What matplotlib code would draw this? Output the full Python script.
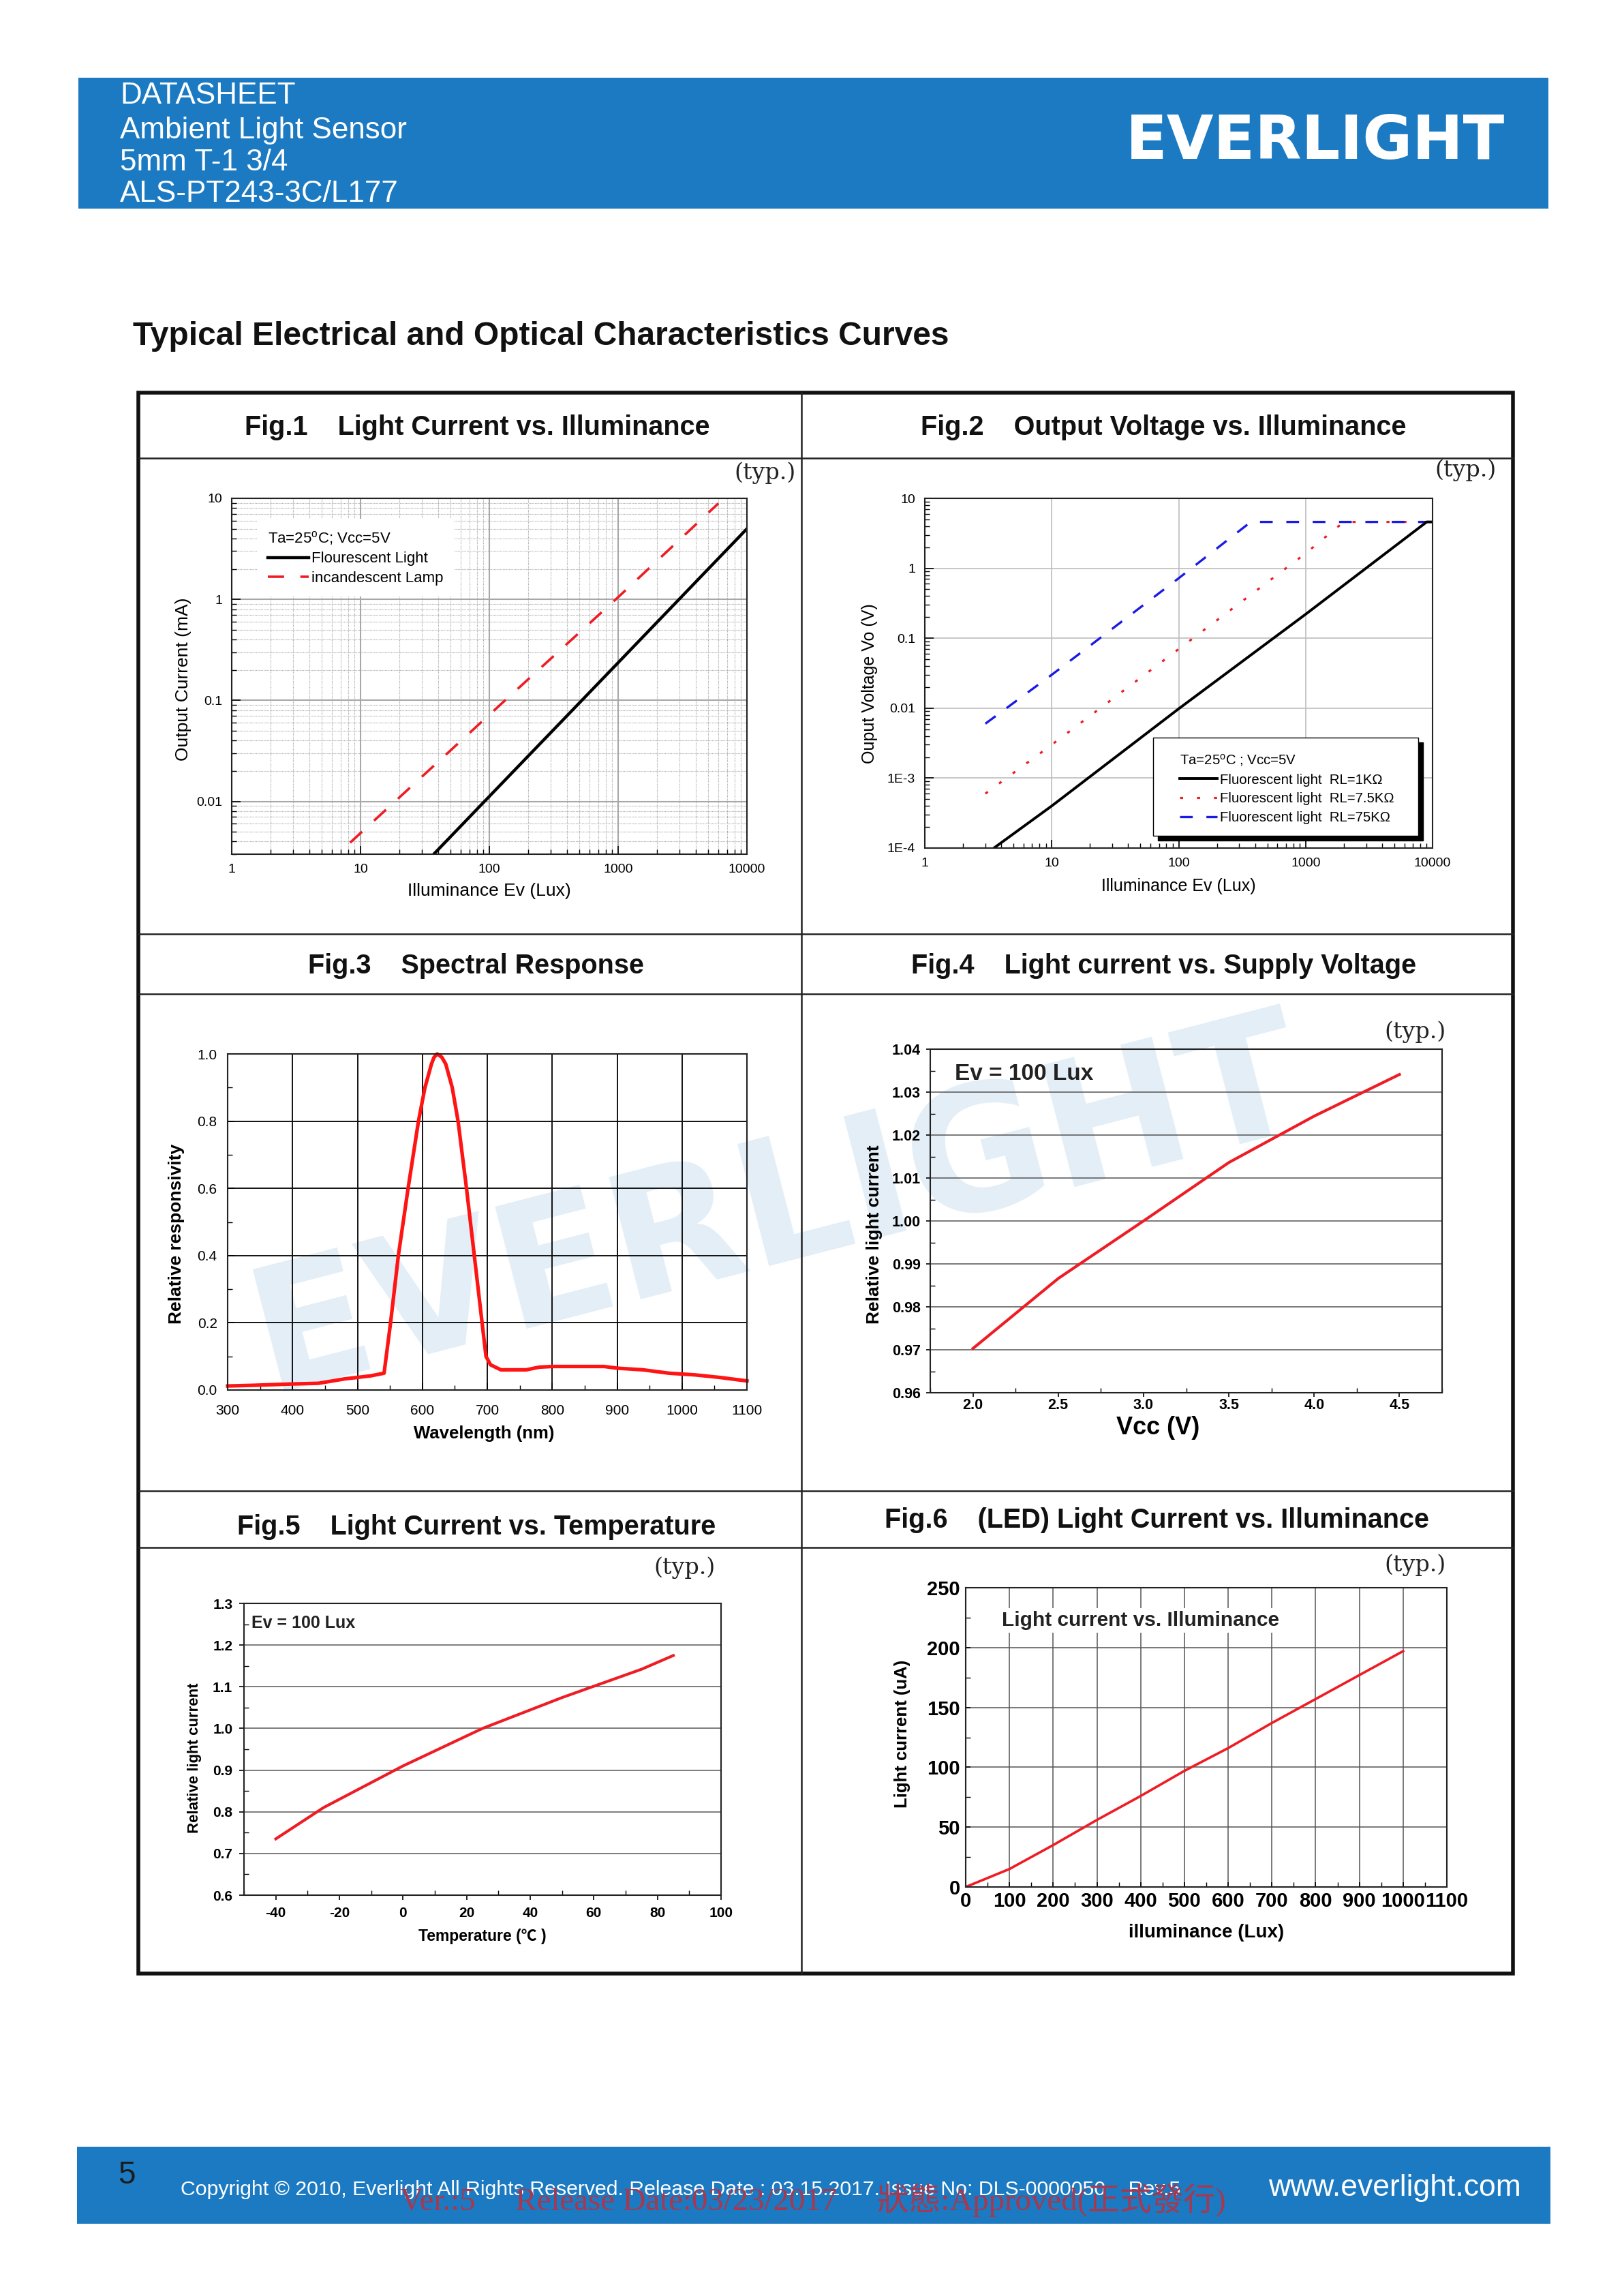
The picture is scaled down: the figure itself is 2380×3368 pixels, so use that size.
import matplotlib

matplotlib.use("Agg")
import matplotlib.pyplot as plt
from matplotlib.lines import Line2D
from matplotlib.patches import Rectangle
from matplotlib.ticker import LogLocator, MultipleLocator, NullFormatter

WIDTH = 2380
HEIGHT = 3368
BLUE = "#1b7ac1"

plt.rcParams["font.family"] = ["Liberation Sans", "Noto Sans CJK SC", "DejaVu Sans"]
plt.rcParams["mathtext.default"] = "regular"

# Fig.1
fig1_lux = [37, 100, 1000, 10000]
fig1_flourescent = [0.003, 0.0112, 0.236, 5.0]
fig1_lamp_lux = [8.3, 100, 1000, 6000]
fig1_lamp = [0.0039, 0.072, 1.05, 8.9]
log_ticks = [1, 10, 100, 1000, 10000]
log_tick_labels = ["1", "10", "100", "1000", "10000"]
fig1_y_ticks = [0.01, 0.1, 1, 10]
fig1_y_labels = ["0.01", "0.1", "1", "10"]

# Fig.2
fig2_lux_1k = [3.5, 10, 100, 1000, 9000, 10000]
fig2_volt_1k = [0.0001, 0.0004, 0.0098, 0.22, 4.6, 4.6]
fig2_lux_75 = [3, 10, 100, 1000, 1600, 2000, 10000]
fig2_volt_75 = [0.0006, 0.003, 0.07, 1.63, 3.3, 4.6, 4.6]
fig2_lux_750 = [3, 10, 100, 370, 10000]
fig2_volt_750 = [0.006, 0.03, 0.72, 4.6, 4.6]
fig2_y_ticks = [0.0001, 0.001, 0.01, 0.1, 1, 10]
fig2_y_labels = ["1E-4", "1E-3", "0.01", "0.1", "1", "10"]

# Fig.3
wavelength = [300, 340, 400, 440, 480, 520, 541, 547, 551, 563, 578, 594, 604, 614, 618, 623, 630,
              636, 646, 655, 668, 680, 692, 698, 705, 721, 760, 780, 800, 850, 880, 900,
              940, 980, 1020, 1060, 1100]
responsivity = [0.012, 0.014, 0.018, 0.02, 0.033, 0.042, 0.05, 0.14, 0.2, 0.4, 0.6, 0.8, 0.9, 0.97, 0.99, 1.0, 0.99,
                0.97, 0.9, 0.8, 0.6, 0.4, 0.2, 0.1, 0.075, 0.06, 0.06, 0.068, 0.07, 0.07, 0.07, 0.065,
                0.06, 0.05, 0.045, 0.037, 0.027]
fig3_x_ticks = [300, 400, 500, 600, 700, 800, 900, 1000, 1100]
fig3_y_ticks = [0.0, 0.2, 0.4, 0.6, 0.8, 1.0]

# Fig.4
vcc = [2.0, 2.5, 3.0, 3.5, 4.0, 4.5]
vcc_current = [0.9703, 0.9866, 1.0, 1.0136, 1.0244, 1.0341]
fig4_x_ticks = [2.0, 2.5, 3.0, 3.5, 4.0, 4.5]
fig4_y_ticks = [0.96, 0.97, 0.98, 0.99, 1.00, 1.01, 1.02, 1.03, 1.04]

# Fig.5
temperature = [-40, -25, 0, 25, 50, 75, 85]
temp_current = [0.735, 0.81, 0.91, 1.0, 1.074, 1.142, 1.175]
fig5_x_ticks = [-40, -20, 0, 20, 40, 60, 80, 100]
fig5_y_ticks = [0.6, 0.7, 0.8, 0.9, 1.0, 1.1, 1.2, 1.3]

# Fig.6
led_lux = [0, 100, 200, 300, 400, 500, 600, 700, 800, 900, 1000]
led_current = [0, 15, 35, 56, 76, 97, 116, 137, 157, 177, 197]
fig6_x_ticks = [0, 100, 200, 300, 400, 500, 600, 700, 800, 900, 1000, 1100]
fig6_y_ticks = [0, 50, 100, 150, 200, 250]


def add_panel(fig, left, top, right, bottom):
    ax = fig.add_axes([left / WIDTH, 1 - bottom / HEIGHT, (right - left) / WIDTH, (bottom - top) / HEIGHT])
    ax.set_facecolor("none")
    ax.set_axisbelow(True)
    return ax


def place_labels(ax, box, xlabel, xlabel_at, ylabel, ylabel_at, size, weight="normal", xsize=None):
    left, top, right, bottom = box
    ax.set_xlabel(xlabel, fontsize=xsize or size, fontweight=weight, va="center", ha="center")
    ax.set_ylabel(ylabel, fontsize=size, fontweight=weight, va="center", ha="center")
    ax.xaxis.set_label_coords((xlabel_at[0] - left) / (right - left), (bottom - xlabel_at[1]) / (bottom - top))
    ax.yaxis.set_label_coords((ylabel_at[0] - left) / (right - left), (bottom - ylabel_at[1]) / (bottom - top))


def setup_log_axes(ax, y_ticks, y_labels):
    ax.set_xscale("log")
    ax.set_yscale("log")
    ax.set_xlim(1, 10000)
    ax.set_xticks(log_ticks, log_tick_labels)
    ax.set_yticks(y_ticks, y_labels)
    subs = [2, 3, 4, 5, 6, 7, 8, 9]
    ax.xaxis.set_minor_locator(LogLocator(base=10, subs=subs, numticks=12))
    ax.yaxis.set_minor_locator(LogLocator(base=10, subs=subs, numticks=12))
    ax.xaxis.set_minor_formatter(NullFormatter())
    ax.yaxis.set_minor_formatter(NullFormatter())
    ax.tick_params(which="major", direction="in", length=9, width=1.2, labelsize=14, pad=10)
    ax.tick_params(which="minor", direction="in", length=5, width=1)
    for spine in ax.spines.values():
        spine.set_linewidth(1.5)
        spine.set_color("#222222")


def setup_linear_axes(ax, x_ticks, y_ticks, x_fmt, y_fmt, tick_size, weight="bold"):
    ax.set_xticks(x_ticks, [x_fmt.format(v) for v in x_ticks])
    ax.set_yticks(y_ticks, [y_fmt.format(v) for v in y_ticks])
    ax.tick_params(which="major", width=1.2, labelsize=tick_size)
    ax.tick_params(which="minor", direction="in", length=5, width=1)
    for label in ax.get_xticklabels() + ax.get_yticklabels():
        label.set_fontweight(weight)
    for spine in ax.spines.values():
        spine.set_linewidth(1.5)
        spine.set_color("#222222")


fig = plt.figure(figsize=(WIDTH / 100, HEIGHT / 100), dpi=100, facecolor="white")

# page furniture, in pixel coordinates
page = fig.add_axes([0, 0, 1, 1], zorder=-5)
page.set_xlim(0, WIDTH)
page.set_ylim(HEIGHT, 0)
page.axis("off")

page.add_patch(Rectangle((115, 114), 2157, 192, color=BLUE, lw=0))
page.add_patch(Rectangle((113, 3149), 2162, 113, color=BLUE, lw=0))

for text, y in zip(["DATASHEET", "Ambient Light Sensor", "5mm T-1 3/4", "ALS-PT243-3C/L177"], [141, 191, 238, 285]):
    page.text(176, y, text, color="white", fontsize=31.7, va="center", ha="left")
page.text(1930, 208, "EVERLIGHT", color="white", fontsize=64, fontweight="bold", family="DejaVu Sans",
          va="center", ha="center")

page.text(173, 3191, "5", color="#1c1c1c", fontsize=33, va="center", ha="left")
page.text(265, 3212,
          "Copyright \u00a9 2010, Everlight All Rights Reserved. Release Date : 03.15.2017. Issue No: DLS-0000050    Rev.5",
          color="white", fontsize=21.8, va="center", ha="left")
page.text(1861, 3209, "www.everlight.com", color="white", fontsize=32, va="center", ha="left")
page.text(587, 3227, "Ver.:5     Release Date:03/23/2017     \u72c0\u614b:Approved(\u6b63\u5f0f\u767c\u884c)",
          color="#a8384f", fontsize=33.7, family=["Liberation Serif", "Noto Sans CJK TC"], va="center", ha="left")

page.text(195, 494, "Typical Electrical and Optical Characteristics Curves", color="#111111",
          fontsize=34.5, fontweight="bold", va="center", ha="left")

page.text(1142, 1775, "EVERLIGHT", color="#e3eef7", fontsize=182, fontweight="bold", family="DejaVu Sans",
          rotation=14.5, rotation_mode="anchor", va="center", ha="center", zorder=0)

# table frame
page.add_patch(Rectangle((203, 576), 2017, 2319, fill=False, ec="#111111", lw=4, zorder=2))
for y in [672, 1370, 1458, 2187, 2270]:
    page.add_line(Line2D([203, 2220], [y, y], color="#222222", lw=1.8, zorder=2))
page.add_line(Line2D([1176, 1176], [576, 2895], color="#222222", lw=1.8, zorder=2))

titles = [
    (700, 627, "Fig.1    Light Current vs. Illuminance"),
    (1707, 627, "Fig.2    Output Voltage vs. Illuminance"),
    (699, 1417, "Fig.3    Spectral Response"),
    (1708, 1417, "Fig.4    Light current vs. Supply Voltage"),
    (699, 2240, "Fig.5    Light Current vs. Temperature"),
    (1698, 2230, "Fig.6    (LED) Light Current vs. Illuminance"),
]
for x, y, text in titles:
    page.text(x, y, text, color="#111111", fontsize=28.5, fontweight="bold", va="center", ha="center")

for x, y in [(1123, 694), (2150, 690), (2077, 1514), (1005, 2300), (2077, 2296)]:
    page.text(x, y, "(typ.)", color="#222222", fontsize=24, family="DejaVu Serif", va="center", ha="center")

# Fig.1
box1 = (340, 731, 1096, 1253)
ax1 = add_panel(fig, *box1)
setup_log_axes(ax1, fig1_y_ticks, fig1_y_labels)
ax1.set_ylim(0.003, 10)
ax1.grid(True, which="major", color="#a8a8a8", lw=1.5)
ax1.grid(True, which="minor", color="#a8a8a8", lw=0.8, ls=(0, (1, 1)))
line_f, = ax1.plot(fig1_lux, fig1_flourescent, color="black", lw=3.2)
line_i, = ax1.plot(fig1_lamp_lux, fig1_lamp, color="#ee1c25", lw=2.6, ls=(0, (6.6, 6.6)))
ax1.legend([line_f, line_i], ["Flourescent Light", "incandescent Lamp"],
           title="Ta=25$^{o}$C; Vcc=5V", loc="upper left",
           bbox_to_anchor=(37 / 756, 1 - 30 / 522), borderaxespad=0, fontsize=16, title_fontsize=16,
           frameon=True, fancybox=False, edgecolor="none", framealpha=1, facecolor="white",
           handlelength=2.7, handletextpad=0.2, labelspacing=0.35, borderpad=0.7, alignment="left")
place_labels(ax1, box1, "Illuminance Ev (Lux)", (718, 1307), "Output Current (mA)", (269, 996), 19)

# Fig.2
box2 = (1357, 731, 2102, 1244)
ax2 = add_panel(fig, *box2)
setup_log_axes(ax2, fig2_y_ticks, fig2_y_labels)
ax2.set_ylim(0.0001, 10)
ax2.grid(True, which="major", color="#bdbdbd", lw=1.2)
line_75, = ax2.plot(fig2_lux_75, fig2_volt_75, color="#ee1c25", lw=2.3, ls=(0, (1.4, 6.4)))
line_750, = ax2.plot(fig2_lux_750, fig2_volt_750, color="#1a1ae6", lw=2.4, ls=(0, (5.6, 6)))
line_1k, = ax2.plot(fig2_lux_1k, fig2_volt_1k, color="black", lw=2.8)
# legend box with its hard shadow sits under a frameless legend
for offset, colour in [(7, "black"), (0, "white")]:
    ax2.add_patch(Rectangle((1692 + offset, 1082 + offset), 389, 144, transform=page.transData, facecolor=colour,
                            edgecolor="black", lw=1, zorder=4))
ax2.legend([line_1k, line_75, line_750],
           ["Fluorescent light  RL=1K\u03a9", "Fluorescent light  RL=7.5K\u03a9", "Fluorescent light  RL=75K\u03a9"],
           title="Ta=25$^{o}$C ; Vcc=5V", loc="upper left",
           bbox_to_anchor=((1731 - 1357) / 745, 1 - (1104 - 731) / 513), borderaxespad=0, borderpad=0,
           fontsize=14.7, title_fontsize=14.7, frameon=False,
           handlelength=2.7, handletextpad=0.2, labelspacing=0.42, alignment="left").set_zorder(6)
place_labels(ax2, box2, "Illuminance Ev (Lux)", (1729, 1300), "Ouput Voltage Vo (V)", (1276, 1003), 18)

# Fig.3
box3 = (334, 1546, 1096, 2039)
ax3 = add_panel(fig, *box3)
ax3.set_xlim(300, 1100)
ax3.set_ylim(0, 1)
setup_linear_axes(ax3, fig3_x_ticks, fig3_y_ticks, "{:d}", "{:.1f}", 15, weight="normal")
ax3.xaxis.set_minor_locator(MultipleLocator(50))
ax3.yaxis.set_minor_locator(MultipleLocator(0.1))
ax3.tick_params(which="major", direction="in", length=7, pad=15)
ax3.tick_params(axis="y", which="major", pad=11)
ax3.grid(True, which="major", color="#111111", lw=1.4)
ax3.plot(wavelength, responsivity, color="#ff1414", lw=3.8, clip_on=False)
place_labels(ax3, box3, "Wavelength (nm)", (710, 2103), "Relative responsivity", (259, 1810), 19, "bold", xsize=18.5)

# Fig.4
box4 = (1365, 1539, 2116, 2043)
ax4 = add_panel(fig, *box4)
ax4.set_xlim(1.75, 4.75)
ax4.set_ylim(0.96, 1.04)
setup_linear_axes(ax4, fig4_x_ticks, fig4_y_ticks, "{:.1f}", "{:.2f}", 15.5)
ax4.xaxis.set_minor_locator(MultipleLocator(0.25))
ax4.yaxis.set_minor_locator(MultipleLocator(0.005))
ax4.tick_params(axis="x", which="major", length=4, pad=2)
ax4.tick_params(axis="y", which="major", length=4, pad=6)
ax4.grid(True, axis="y", which="major", color="#555555", lw=1.1)
ax4.plot(vcc, vcc_current, color="#ee1c25", lw=3)
ax4.text((1401 - 1365) / 751, 1 - (1576 - 1539) / 504, "Ev = 100 Lux", transform=ax4.transAxes,
         fontsize=24, fontweight="bold", va="center", ha="left", color="#222222")
place_labels(ax4, box4, "Vcc (V)", (1699, 2094), "Relative light current", (1283, 1811), 19, "bold", xsize=26)

# Fig.5
box5 = (358, 2352, 1058, 2780)
ax5 = add_panel(fig, *box5)
ax5.set_xlim(-50, 100)
ax5.set_ylim(0.6, 1.3)
setup_linear_axes(ax5, fig5_x_ticks, fig5_y_ticks, "{:d}", "{:.1f}", 15)
ax5.xaxis.set_minor_locator(MultipleLocator(10))
ax5.yaxis.set_minor_locator(MultipleLocator(0.05))
ax5.tick_params(which="major", length=5, pad=7)
ax5.grid(True, axis="y", which="major", color="#666666", lw=1.2)
ax5.plot(temperature, temp_current, color="#ee1c25", lw=3)
ax5.text((369 - 358) / 700, 1 - (2381 - 2352) / 428, "Ev = 100 Lux", transform=ax5.transAxes,
         fontsize=18, fontweight="bold", va="center", ha="left", color="#222222")
place_labels(ax5, box5, "Temperature (\u2103 )", (708, 2841), "Relative light current", (286, 2579), 16, "bold", xsize=16.5)

# Fig.6
box6 = (1417, 2329, 2123, 2768)
ax6 = add_panel(fig, *box6)
ax6.set_xlim(0, 1100)
ax6.set_ylim(0, 250)
setup_linear_axes(ax6, fig6_x_ticks, fig6_y_ticks, "{:d}", "{:d}", 21)
ax6.xaxis.set_minor_locator(MultipleLocator(50))
ax6.yaxis.set_minor_locator(MultipleLocator(25))
ax6.tick_params(which="major", direction="in", length=5)
ax6.tick_params(axis="x", which="major", pad=5)
ax6.tick_params(axis="y", which="major", pad=6)
ax6.grid(True, which="major", color="#555555", lw=1.1)
ax6.plot(led_lux, led_current, color="#ee1c25", lw=2.6)
ax6.text((1470 - 1417) / 706, 1 - (2377 - 2329) / 439, "Light current vs. Illuminance", transform=ax6.transAxes,
         fontsize=21.5, fontweight="bold", va="center", ha="left", color="#222222",
         bbox={"facecolor": "white", "edgecolor": "none", "pad": 3})
place_labels(ax6, box6, "illuminance (Lux)", (1770, 2835), "Light current (uA)", (1324, 2543), 18.5, "bold", xsize=20)

fig.savefig("out.png", dpi=100, facecolor="white")
